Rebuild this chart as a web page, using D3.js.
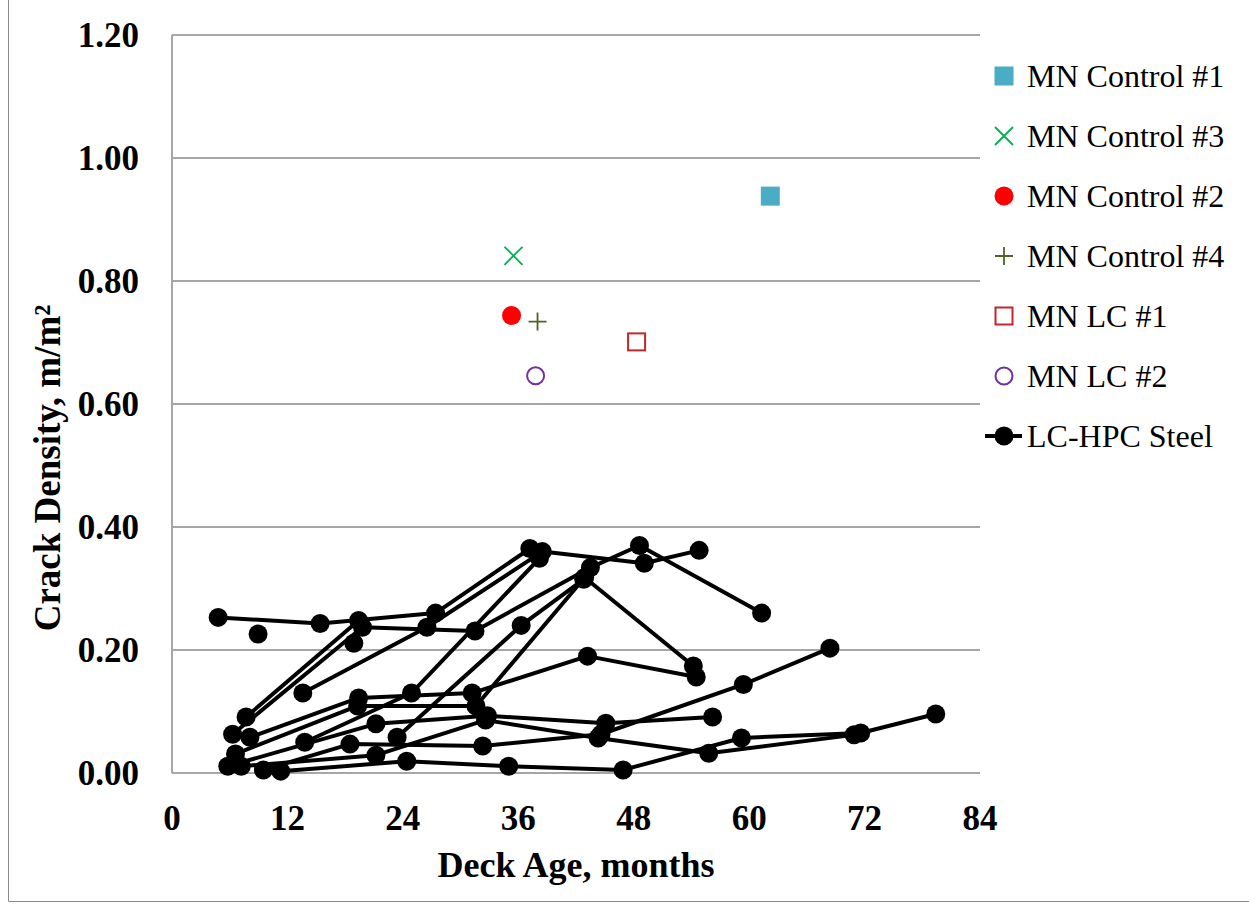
<!DOCTYPE html>
<html>
<head>
<meta charset="utf-8">
<script src="https://cdn.jsdelivr.net/npm/d3@7"></script>
<style>
body { margin: 0; background: #fff; }
svg text { font-family: "Liberation Serif", "Times New Roman", Times, serif; }
</style>
</head>
<body>
<svg id="chart"></svg>
<script>
// tick values
const xTicks = [0, 12, 24, 36, 48, 60, 72, 84];
const yTicks = [0, 0.2, 0.4, 0.6, 0.8, 1.0, 1.2];

// MN decks: [age (months), crack density (m/m2)]
const mnControl1 = [[62.2, 0.938]];
const mnControl3 = [[35.5, 0.841]];
const mnControl2 = [[35.3, 0.744]];
const mnControl4 = [[38.0, 0.734]];
const mnLC1 = [[48.3, 0.701]];
const mnLC2 = [[37.8, 0.646]];

// LC-HPC steel decks, one array per deck (surveys in order)
const deckA = [[4.8, 0.253], [15.4, 0.243], [27.4, 0.260], [37.2, 0.365]];
const deckB = [[7.7, 0.091], [19.4, 0.248]];
const deckC = [[13.6, 0.130], [26.5, 0.237], [38.5, 0.360], [49.1, 0.341], [54.8, 0.362]];
const deckD = [[6.3, 0.063], [19.8, 0.237], [31.5, 0.231], [43.5, 0.334], [48.6, 0.370], [61.3, 0.260]];
const deckE = [[23.4, 0.058], [36.3, 0.240], [42.8, 0.315]];
const deckF = [[6.6, 0.031], [19.3, 0.109], [31.6, 0.109], [42.9, 0.318], [54.2, 0.174]];
const deckG = [[8.1, 0.058], [19.4, 0.122], [31.2, 0.130], [43.2, 0.190], [54.5, 0.156]];
const deckH = [[13.8, 0.050], [24.9, 0.130], [38.2, 0.349]];
const deckI = [[5.8, 0.011], [21.2, 0.080], [32.8, 0.093], [45.1, 0.081], [56.2, 0.091]];
const deckJ = [[7.2, 0.011], [21.2, 0.029], [32.6, 0.086], [44.3, 0.057], [55.8, 0.032], [70.9, 0.062]];
const deckK = [[9.5, 0.005], [18.5, 0.047], [32.3, 0.044], [44.6, 0.063], [59.4, 0.144], [68.4, 0.203]];
const deckL = [[11.3, 0.003], [24.4, 0.019], [35.0, 0.011], [46.9, 0.005], [59.2, 0.057], [71.6, 0.065], [79.4, 0.096]];
const deckM = [[8.95, 0.226]];
const deckN = [[18.9, 0.211]];

const lcHpcDecks = [deckA, deckB, deckC, deckD, deckE, deckF, deckG, deckH, deckI, deckJ, deckK, deckL, deckM, deckN];

const legendNames = ['MN Control #1', 'MN Control #3', 'MN Control #2', 'MN Control #4', 'MN LC #1', 'MN LC #2', 'LC-HPC Steel'];

class CrackChart {
    constructor(config) {
        this.config = {
            parent: config.parent,
            width: config.width || 1249,
            height: config.height || 905,
            margin: config.margin || {top: 35, right: 269, bottom: 132, left: 172}
        };
        this.init();
    }

    init() {
        let self = this;

        self.svg = d3.select(self.config.parent)
            .attr('width', self.config.width)
            .attr('height', self.config.height);

        // chart area border
        self.svg.append('path')
            .attr('d', `M8.5,0 V901.5 H${self.config.width}`)
            .attr('fill', 'none')
            .attr('stroke', '#8c8c8c')
            .attr('stroke-width', 1);

        self.chart = self.svg.append('g')
            .attr('transform', `translate(${self.config.margin.left}, ${self.config.margin.top})`);

        self.inner_width = self.config.width - self.config.margin.left - self.config.margin.right;
        self.inner_height = self.config.height - self.config.margin.top - self.config.margin.bottom;

        self.xscale = d3.scaleLinear()
            .domain([0, 84])
            .range([0, self.inner_width]);

        self.yscale = d3.scaleLinear()
            .domain([0, 1.2])
            .range([self.inner_height, 0]);
    }

    render() {
        let self = this;
        const x = self.xscale, y = self.yscale;

        // gridlines
        self.chart.append('g')
            .selectAll('line')
            .data(yTicks)
            .join('line')
            .attr('x1', 0)
            .attr('x2', self.inner_width)
            .attr('y1', d => y(d))
            .attr('y2', d => y(d))
            .attr('stroke', '#a6a6a6')
            .attr('stroke-width', 2);

        self.chart.append('line')
            .attr('x1', 0).attr('x2', 0)
            .attr('y1', 0).attr('y2', self.inner_height)
            .attr('stroke', '#a6a6a6')
            .attr('stroke-width', 2);

        // tick labels
        self.chart.append('g')
            .selectAll('text')
            .data(yTicks)
            .join('text')
            .attr('x', -33)
            .attr('y', d => y(d) + 12)
            .attr('text-anchor', 'end')
            .style('font-size', '35px')
            .style('font-weight', 'bold')
            .text(d => d3.format('.2f')(d));

        self.chart.append('g')
            .selectAll('text')
            .data(xTicks)
            .join('text')
            .attr('x', d => x(d))
            .attr('y', self.inner_height + 57)
            .attr('text-anchor', 'middle')
            .style('font-size', '35px')
            .style('font-weight', 'bold')
            .text(d => d);

        // axis titles
        self.svg.append('text')
            .attr('x', 576)
            .attr('y', 877)
            .attr('text-anchor', 'middle')
            .style('font-size', '36px')
            .style('font-weight', 'bold')
            .text('Deck Age, months');

        self.svg.append('text')
            .attr('transform', 'translate(60, 468) rotate(-90)')
            .attr('text-anchor', 'middle')
            .style('font-size', '37px')
            .style('font-weight', 'bold')
            .text('Crack Density, m/m²');

        // LC-HPC decks
        const line = d3.line().x(d => x(d[0])).y(d => y(d[1]));
        self.chart.append('g')
            .selectAll('path')
            .data(lcHpcDecks.filter(d => d.length > 1))
            .join('path')
            .attr('d', line)
            .attr('fill', 'none')
            .attr('stroke', '#000')
            .attr('stroke-width', 4)
            .attr('stroke-linejoin', 'round');

        self.chart.append('g')
            .selectAll('circle')
            .data(lcHpcDecks.flat())
            .join('circle')
            .attr('cx', d => x(d[0]))
            .attr('cy', d => y(d[1]))
            .attr('r', 9.5)
            .attr('fill', '#000');

        // MN decks
        self.drawMarker(self.chart, 'fillSquare', mnControl1.map(d => [x(d[0]), y(d[1])]));
        self.drawMarker(self.chart, 'cross', mnControl3.map(d => [x(d[0]), y(d[1])]));
        self.drawMarker(self.chart, 'fillCircle', mnControl2.map(d => [x(d[0]), y(d[1])]));
        self.drawMarker(self.chart, 'plus', mnControl4.map(d => [x(d[0]), y(d[1])]));
        self.drawMarker(self.chart, 'openSquare', mnLC1.map(d => [x(d[0]), y(d[1])]));
        self.drawMarker(self.chart, 'openCircle', mnLC2.map(d => [x(d[0]), y(d[1])]));

        // legend
        const kinds = ['fillSquare', 'cross', 'fillCircle', 'plus', 'openSquare', 'openCircle', 'lcHpc'];
        const legend = self.svg.append('g');
        legendNames.forEach((name, i) => {
            const cy = 76 + i * 60;
            if (kinds[i] === 'lcHpc') {
                legend.append('line')
                    .attr('x1', 985).attr('x2', 1022)
                    .attr('y1', cy).attr('y2', cy)
                    .attr('stroke', '#000').attr('stroke-width', 4);
                legend.append('circle')
                    .attr('cx', 1004).attr('cy', cy).attr('r', 9.5).attr('fill', '#000');
            } else {
                self.drawMarker(legend, kinds[i], [[1004, cy]]);
            }
            legend.append('text')
                .attr('x', 1027)
                .attr('y', cy + 11)
                .style('font-size', '32px')
                .text(name);
        });
    }

    drawMarker(g, kind, pts) {
        pts.forEach(([cx, cy]) => {
            if (kind === 'fillSquare') {
                g.append('rect').attr('x', cx - 9.5).attr('y', cy - 9.5)
                    .attr('width', 19).attr('height', 19).attr('fill', '#4bacc6');
            } else if (kind === 'cross') {
                g.append('path').attr('d', `M${cx-9},${cy-9}L${cx+9},${cy+9}M${cx-9},${cy+9}L${cx+9},${cy-9}`)
                    .attr('stroke', '#00b050').attr('stroke-width', 1.8).attr('fill', 'none');
            } else if (kind === 'fillCircle') {
                g.append('circle').attr('cx', cx).attr('cy', cy).attr('r', 9.5).attr('fill', '#ff0000');
            } else if (kind === 'plus') {
                g.append('path').attr('d', `M${cx-9},${cy}H${cx+9}M${cx},${cy-9}V${cy+9}`)
                    .attr('stroke', '#4f6228').attr('stroke-width', 1.8).attr('fill', 'none');
            } else if (kind === 'openSquare') {
                g.append('rect').attr('x', cx - 8.5).attr('y', cy - 8.5)
                    .attr('width', 17).attr('height', 17)
                    .attr('fill', '#fff').attr('stroke', '#c0282d').attr('stroke-width', 2);
            } else if (kind === 'openCircle') {
                g.append('circle').attr('cx', cx).attr('cy', cy).attr('r', 8.5)
                    .attr('fill', '#fff').attr('stroke', '#7030a0').attr('stroke-width', 2);
            }
        });
    }
}

const chart = new CrackChart({parent: '#chart'});
chart.render();
</script>
</body>
</html>
